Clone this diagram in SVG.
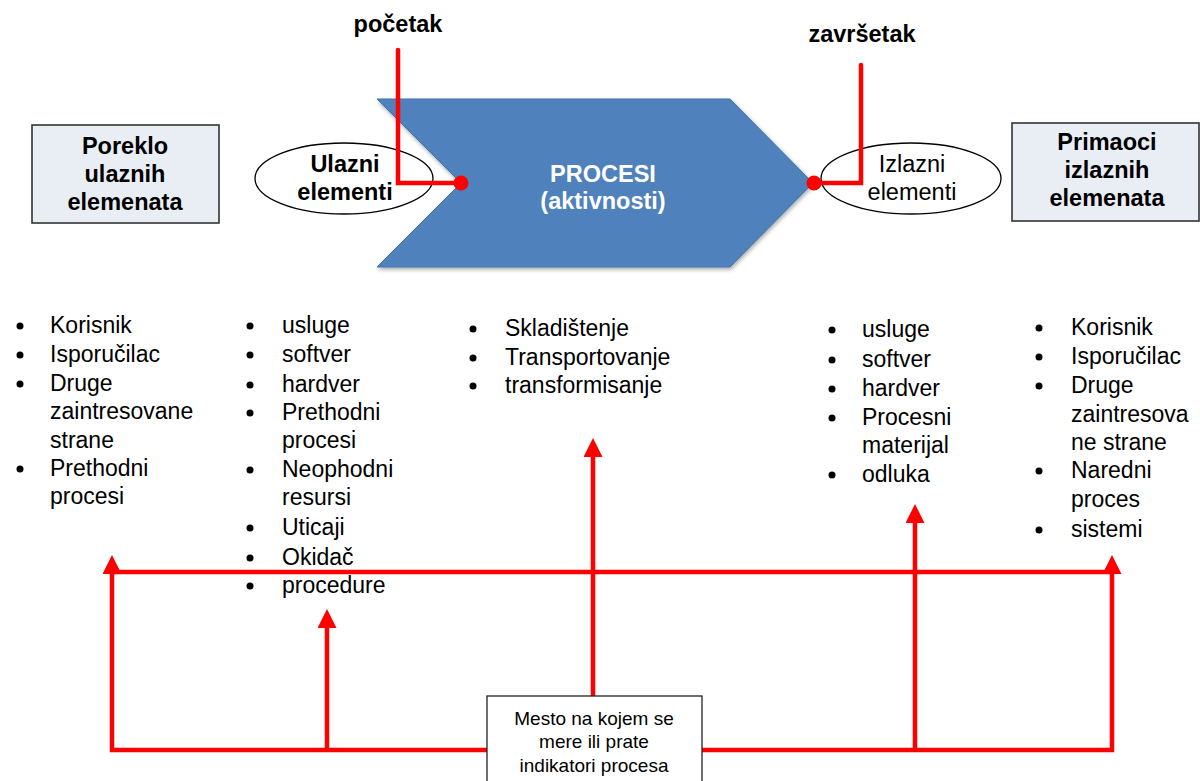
<svg xmlns="http://www.w3.org/2000/svg" width="1200" height="781" viewBox="0 0 1200 781">
<style>
text{font-family:"Liberation Sans",Arial,sans-serif;fill:#000}
.b{font-weight:bold;font-size:23.5px}
.n{font-size:23.5px}
.li{font-size:23px}
.box{fill:#e9edf4;stroke:#333;stroke-width:1.6}
.ell{fill:#fff;stroke:#000;stroke-width:1.3}
.red{fill:none;stroke:#ff0000;stroke-width:4.5;stroke-linejoin:miter}
.dot{fill:#ff0000}
.bul{fill:#000}
</style>
<defs>
<marker id="ah" markerUnits="userSpaceOnUse" markerWidth="20" markerHeight="19" viewBox="0 0 10 10" refX="0" refY="5" orient="auto">
<path d="M0,0 L10,5 L0,10 z" fill="#ff0000"/>
</marker>
<filter id="sh" x="-10%" y="-10%" width="120%" height="125%">
<feGaussianBlur in="SourceAlpha" stdDeviation="2"/>
<feOffset dx="1" dy="2"/>
<feComponentTransfer><feFuncA type="linear" slope="0.35"/></feComponentTransfer>
<feMerge><feMergeNode/><feMergeNode in="SourceGraphic"/></feMerge>
</filter>
</defs>
<rect width="1200" height="781" fill="#fff"/>

<g id="proces">
<polygon points="377,99 730,99 813,183 730,267 377,267 461,183" fill="#4f81bd" stroke="#4572a8" stroke-width="1" filter="url(#sh)"/>
<text class="b" x="603" y="182" text-anchor="middle" style="fill:#fff">PROCESI</text>
<text class="b" x="603" y="209" text-anchor="middle" style="fill:#fff">(aktivnosti)</text>
</g>

<g id="poreklo">
<rect class="box" x="32" y="125" width="187" height="98"/>
<text class="b" x="125" y="154" text-anchor="middle">Poreklo</text>
<text class="b" x="125" y="182" text-anchor="middle">ulaznih</text>
<text class="b" x="125" y="210" text-anchor="middle">elemenata</text>
</g>

<g id="primaoci">
<rect class="box" x="1012" y="123" width="187" height="98"/>
<text class="b" x="1107" y="150" text-anchor="middle">Primaoci</text>
<text class="b" x="1107" y="178" text-anchor="middle">izlaznih</text>
<text class="b" x="1107" y="206" text-anchor="middle">elemenata</text>
</g>

<g id="ulazni">
<ellipse class="ell" cx="344" cy="178.5" rx="89" ry="35.5"/>
<text class="b" x="345" y="172" text-anchor="middle">Ulazni</text>
<text class="b" x="345" y="200" text-anchor="middle">elementi</text>
</g>

<g id="izlazni">
<ellipse class="ell" cx="911" cy="178.5" rx="90" ry="35.5"/>
<text class="n" x="912" y="172" text-anchor="middle">Izlazni</text>
<text class="n" x="912" y="200" text-anchor="middle">elementi</text>
</g>

<g id="pocetak">
<text class="b" x="398" y="32" text-anchor="middle">početak</text>
</g>
<g id="zavrsetak">
<text class="b" x="862" y="42" text-anchor="middle">završetak</text>
</g>

<g id="connectors">
<path class="red" d="M398,50 V183 H461" stroke-linecap="round"/>
<path class="red" d="M861,65 V183 H814" stroke-linecap="round"/>
<circle class="dot" cx="461" cy="183" r="7.5"/>
<circle class="dot" cx="814" cy="183" r="7.5"/>
<path class="red" d="M112,572 H1112"/>
<path class="red" d="M487,750 H112 V574" marker-end="url(#ah)"/>
<path class="red" d="M702,750 H1112 V574" marker-end="url(#ah)"/>
<path class="red" d="M327,750 V628" marker-end="url(#ah)"/>
<path class="red" d="M915,750 V523" marker-end="url(#ah)"/>
<path class="red" d="M593,696 V457" marker-end="url(#ah)"/>
</g>

<g id="indikatori">
<rect x="487" y="696" width="215" height="95" fill="#fff" stroke="#222" stroke-width="1.3"/>
<text x="594" y="725" text-anchor="middle" font-size="19">Mesto na kojem se</text>
<text x="594" y="748" text-anchor="middle" font-size="19">mere ili prate</text>
<text x="594" y="772" text-anchor="middle" font-size="19">indikatori procesa</text>
</g>

<g id="lista-poreklo">
<circle class="bul" cx="20" cy="326" r="3.5"/>
<circle class="bul" cx="20" cy="355" r="3.5"/>
<circle class="bul" cx="20" cy="384" r="3.5"/>
<circle class="bul" cx="20" cy="469" r="3.5"/>
<text class="li" x="50" y="333">Korisnik</text>
<text class="li" x="50" y="362">Isporučilac</text>
<text class="li" x="50" y="391">Druge</text>
<text class="li" x="50" y="419">zaintresovane</text>
<text class="li" x="50" y="448">strane</text>
<text class="li" x="50" y="476">Prethodni</text>
<text class="li" x="50" y="504">procesi</text>
</g>

<g id="lista-ulazni">
<circle class="bul" cx="250" cy="326" r="3.5"/>
<circle class="bul" cx="250" cy="355" r="3.5"/>
<circle class="bul" cx="250" cy="385" r="3.5"/>
<circle class="bul" cx="250" cy="413" r="3.5"/>
<circle class="bul" cx="250" cy="470" r="3.5"/>
<circle class="bul" cx="250" cy="528" r="3.5"/>
<circle class="bul" cx="250" cy="558" r="3.5"/>
<circle class="bul" cx="250" cy="586" r="3.5"/>
<text class="li" x="282" y="333">usluge</text>
<text class="li" x="282" y="362">softver</text>
<text class="li" x="282" y="392">hardver</text>
<text class="li" x="282" y="420">Prethodni</text>
<text class="li" x="282" y="448">procesi</text>
<text class="li" x="282" y="477">Neophodni</text>
<text class="li" x="282" y="505">resursi</text>
<text class="li" x="282" y="535">Uticaji</text>
<text class="li" x="282" y="565">Okidač</text>
<text class="li" x="282" y="593">procedure</text>
</g>

<g id="lista-procesi">
<circle class="bul" cx="473" cy="329" r="3.5"/>
<circle class="bul" cx="473" cy="358" r="3.5"/>
<circle class="bul" cx="473" cy="386" r="3.5"/>
<text class="li" x="505" y="336">Skladištenje</text>
<text class="li" x="505" y="365">Transportovanje</text>
<text class="li" x="505" y="393">transformisanje</text>
</g>

<g id="lista-izlazni">
<circle class="bul" cx="832" cy="330" r="3.5"/>
<circle class="bul" cx="832" cy="360" r="3.5"/>
<circle class="bul" cx="832" cy="389" r="3.5"/>
<circle class="bul" cx="832" cy="418" r="3.5"/>
<circle class="bul" cx="832" cy="475" r="3.5"/>
<text class="li" x="862" y="337">usluge</text>
<text class="li" x="862" y="367">softver</text>
<text class="li" x="862" y="396">hardver</text>
<text class="li" x="862" y="425">Procesni</text>
<text class="li" x="862" y="453">materijal</text>
<text class="li" x="862" y="482">odluka</text>
</g>

<g id="lista-primaoci">
<circle class="bul" cx="1039" cy="328" r="3.5"/>
<circle class="bul" cx="1039" cy="357" r="3.5"/>
<circle class="bul" cx="1039" cy="386" r="3.5"/>
<circle class="bul" cx="1039" cy="471" r="3.5"/>
<circle class="bul" cx="1039" cy="530" r="3.5"/>
<text class="li" x="1071" y="335">Korisnik</text>
<text class="li" x="1071" y="364">Isporučilac</text>
<text class="li" x="1071" y="393">Druge</text>
<text class="li" x="1071" y="422">zaintresova</text>
<text class="li" x="1071" y="450">ne strane</text>
<text class="li" x="1071" y="478">Naredni</text>
<text class="li" x="1071" y="507">proces</text>
<text class="li" x="1071" y="537">sistemi</text>
</g>
</svg>
